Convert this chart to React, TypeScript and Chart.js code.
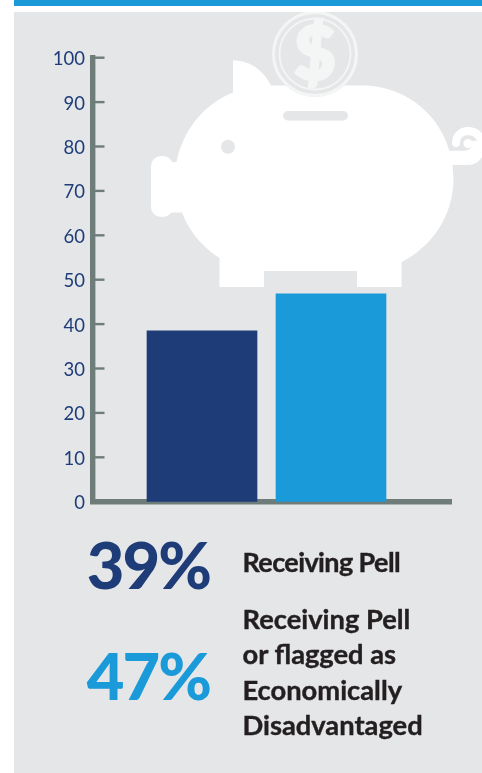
import React, { useEffect, useRef } from "react";
import { Chart, registerables } from "chart.js";

Chart.register(...registerables);

const categories = ["Receiving Pell", "Receiving Pell or flagged as Economically Disadvantaged"];
const values = [38.5, 46.8];
const barColors = ["#1d3c78", "#1a9ad9"];
const yTicks = [0, 10, 20, 30, 40, 50, 60, 70, 80, 90, 100];
const statLabels = ["39%", "47%"];
const descLines = [["Receiving Pell"], ["Receiving Pell", "or flagged as", "Economically", "Disadvantaged"]];

const AXIS = "#6f7d7a";
const PANEL = "#e5e6e8";
const FONT = "Lato, 'Open Sans', sans-serif";

const rightTicks = {
  id: "rightTicks",
  afterDraw(chart: any) {
    const { ctx, scales } = chart;
    const y = scales.y;
    ctx.save();
    ctx.strokeStyle = AXIS;
    ctx.lineWidth = 2.4;
    y.ticks.forEach((t: any) => {
      if (t.value === 0) return;
      const py = y.getPixelForValue(t.value);
      ctx.beginPath();
      ctx.moveTo(chart.chartArea.left, py);
      ctx.lineTo(104.5, py);
      ctx.stroke();
    });
    ctx.restore();
  },
};

function Piggy() {
  return (
    <svg width={482} height={773} style={{ position: "absolute", left: 0, top: 0 }}>
      <defs>
        <clipPath id="panel">
          <rect x={14} y={12} width={468} height={761} />
        </clipPath>
      </defs>
      <g clipPath="url(#panel)">
        <path
          fill="none"
          stroke="#fff"
          strokeWidth={8}
          strokeLinecap="round"
          d="M456 143 C456 135 462 131 468 131 C476 131 482 137 483 145"
        />
        <path fill="#fff" d="M445 150.7 L463 150.7 C470 150.7 473 147 472 141 L484 140 L484 152 C482 160 476 165 468 165 L445 165 Z" />
        <circle cx={468} cy={143.5} r={4.5} fill="#fff" />
        <rect x={151} y={156} width={22} height={61} rx={10} fill="#fff" />
        <path
          fill="#fff"
          d="M233 60.5 C250 60.5 263 70 271 85.5 L362 85.5 C415 85.5 453.5 128 453.5 178 C453.5 215 433 246 401.5 262 L401.5 287 L357 287 L357 271 L264 271 L264 287 L219.5 287 L219.5 258 C202 247 189 231 182 212.5 L165 212.5 L165 162 L176.5 162 C183 130 204 104 233 92.5 Z"
        />
        <rect x={283} y={111} width={65} height={9.5} rx={4.7} fill={PANEL} />
        <circle cx={228} cy={146.7} r={7} fill={PANEL} />
        <circle cx={315} cy={54} r={43} fill={PANEL} />
        <circle cx={315} cy={54} r={41.5} fill="none" stroke="#f4f5f5" strokeWidth={3} />
        <circle cx={315} cy={54} r={35.5} fill="none" stroke="#f4f5f5" strokeWidth={1.8} />
        <text x={315} y={79} textAnchor="middle" fontFamily={FONT} fontWeight={900} fontSize={72} fill="#f4f5f5" stroke="#f4f5f5" strokeWidth={3}>$</text>
      </g>
    </svg>
  );
}

export default function App() {
  const ref = useRef<HTMLCanvasElement>(null);
  useEffect(() => {
    document.body.style.margin = "0";
    const chart = new Chart(ref.current!, {
      type: "bar",
      data: {
        datasets: [
          {
            data: values.map((v, i) => ({ x: i, y: v, label: categories[i] })),
            backgroundColor: barColors,
            barThickness: 110,
            borderWidth: 0,
          },
        ],
      },
      options: {
        animation: false,
        responsive: false,
        layout: { padding: { left: 93 - 60, right: 482 - 451.5, top: 57.7, bottom: 773 - 501.7 } },
        plugins: { legend: { display: false }, tooltip: { enabled: false } },
        scales: {
          x: {
            type: "linear",
            offset: false,
            min: -109 / 129,
            max: 249.5 / 129,
            afterFit(s: any) { s.height = 0; },
            border: { display: true, color: AXIS, width: 5.4 },
            grid: { display: false },
            ticks: { display: false },
          },
          y: {
            min: 0,
            max: 100,
            afterFit(s: any) { s.width = 60; },
            afterBuildTicks(s: any) { s.ticks = yTicks.map((value) => ({ value })); },
            border: { display: true, color: AXIS, width: 5.4 },
            grid: { display: false },
            ticks: {
              color: "#1d3c78",
              padding: 0,
              labelOffset: 1.5,
              font: { family: FONT, size: 18.5 },
              callback: (v: any) => String(v),
            },
          },
        },
      },
      plugins: [rightTicks],
    } as any);
    return () => chart.destroy();
  }, []);

  const statStyle = (color: string, top: number): React.CSSProperties => ({
    position: "absolute", right: 482 - 210, top, color, fontFamily: FONT, fontWeight: 900,
    fontSize: 65, lineHeight: "70px", letterSpacing: "-2px", whiteSpace: "nowrap",
  });
  const descStyle = (top: number, size: number, spacing: number): React.CSSProperties => ({
    position: "absolute", left: 242.5, top, color: "#231f20", fontFamily: FONT, fontWeight: 700,
    fontSize: size, lineHeight: "35.3px", letterSpacing: spacing, whiteSpace: "nowrap",
    WebkitTextStroke: "0.4px #231f20",
  });

  return (
    <div style={{ position: "relative", width: 482, height: 773, overflow: "hidden", background: "#fff" }}>
      <div style={{ position: "absolute", left: 14, top: 0, width: 468, height: 6, background: "#1a9ad9" }} />
      <div style={{ position: "absolute", left: 14, top: 12, width: 468, height: 761, background: PANEL }} />
      <Piggy />
      <canvas ref={ref} width={482} height={773} style={{ position: "absolute", left: 0, top: 0, display: "block" }} />
      <div style={statStyle(barColors[0], 529)}>{statLabels[0]}</div>
      <div style={statStyle(barColors[1], 640)}>{statLabels[1]}</div>
      <div style={descStyle(544, 27, -0.6)}>{descLines[0].map((l) => <div key={l}>{l}</div>)}</div>
      <div style={descStyle(601, 27.3, 0)}>{descLines[1].map((l) => <div key={l}>{l}</div>)}</div>
    </div>
  );
}
